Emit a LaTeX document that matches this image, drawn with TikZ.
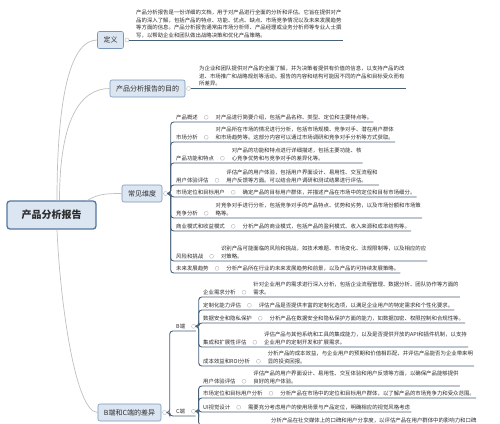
\documentclass[tikz,border=0pt]{standalone}
\usepackage{fontspec}
\setmainfont{Noto Sans CJK SC}
\usepackage{tikz}
\usepackage{xcolor}
\usetikzlibrary{positioning}
\definecolor{mapBlue}{RGB}{84,118,158}
\definecolor{mapFill}{RGB}{220,230,242}
\definecolor{mapEdge}{RGB}{122,150,184}
\definecolor{mapLine}{RGB}{72,96,120}
\definecolor{mapGrey}{RGB}{192,192,192}
\definecolor{mapText}{RGB}{45,45,45}
\newcommand{\leaf}[5]{%
  \node[lbl,anchor=south west] (#1) at (#2,#3) {#4};
  \node[dot,right=5pt of #1] (#1c) {};
  \node[txt,anchor=south west,xshift=6pt] (#1t) at (#1c.east |- #1.south) {#5};}

\begin{document}
\begin{tikzpicture}[
    x=1pt,y=-1pt,
    root/.style={draw=mapBlue,line width=1.3pt,fill=mapFill,rounded corners=3pt,minimum width=89pt,minimum height=28pt,font=\fontsize{10}{12}\selectfont\bfseries,text=mapText},
    topic/.style={draw=mapEdge,line width=0.6pt,fill=mapFill,rounded corners=2pt,minimum height=17pt,inner xsep=6pt,font=\fontsize{7}{8}\selectfont,text=mapText},
    dot/.style={circle,draw=gray!55,fill=white,line width=0.4pt,inner sep=0pt,minimum size=4pt},
    lbl/.style={inner xsep=1pt,inner ysep=2pt,font=\fontsize{5.4}{7.5}\selectfont,text=mapText},
    txt/.style={lbl,align=left},
    branch/.style={mapGrey,line width=0.7pt},
    uline/.style={mapLine,line width=0.9pt,rounded corners=3pt}
  ]
    \useasboundingbox (0,0) rectangle (500,423);
    \fill[white] (0,0) rectangle (500,423);
    \clip (0,0) rectangle (500,423);

    \node[root] (report) at (51.5,215) {产品分析报告};
    \node[topic] (def) at (110.5,40) {定义};
    \node[topic] (aim) at (147.5,88.5) {产品分析报告的目的};
    \node[topic] (dim) at (142,193.5) {常见维度};
    \node[topic] (diff) at (129.5,412.5) {B端和C端的差异};
    \node[dot,right=1pt of def] (defc) {};
    \node[dot,right=1pt of aim] (aimc) {};
    \node[dot,right=1pt of dim] (dimc) {};
    \node[dot,right=1pt of diff] (diffc) {};

    \draw[branch] ([xshift=5.5pt]report.north) .. controls (57,90) and (72,40) .. (def.west);
    \draw[branch] ([xshift=8pt]report.north) .. controls (59.5,120) and (80,88.5) .. (aim.west);
    \draw[branch] ([xshift=36pt]report.north) .. controls (98,194) and (106,193.5) .. (dim.west);
    \draw[branch] ([xshift=5.5pt]report.south) .. controls (60,300) and (75,412.5) .. (diff.west);

    \node[txt,anchor=south west] (deft) at (135,40) {产品分析报告是一份详细的文档，用于对产品进行全面的分析和评估。它旨在提供对产\\品的深入了解，包括产品的特点、功能、优点、缺点、市场竞争情况以及未来发展趋势\\等方面的信息。产品分析报告通常由市场分析师、产品经理或业务分析师等专业人士撰\\写，以帮助企业和团队做出战略决策和优化产品策略。};
    \node[txt,anchor=south west] (aimt) at (198,88.5) {为企业和团队提供对产品的全面了解，并为决策者提供有价值的信息，以支持产品的改\\进、市场推广和战略规划等活动。报告的内容和结构可能因不同的产品和目标受众而有\\所差异。};
    \draw[uline] (defc.east) -- (deft.south east);
    \draw[uline] (aimc.east) -- (aimt.south east);

    \leaf{p1}{175}{122}{产品概述}{对产品进行简要介绍，包括产品名称、类型、定位和主要特点等。}
    \leaf{p2}{175}{142}{市场分析}{对产品所在市场的情况进行分析，包括市场规模、竞争对手、潜在用户群体\\和市场趋势等。这部分内容可以通过市场调研和竞争对手分析等方式获取。}
    \leaf{p3}{175}{163}{产品功能和特点}{对产品的功能和特点进行详细描述，包括主要功能、核\\心竞争优势和与竞争对手的差异化等。}
    \leaf{p4}{175}{185}{用户体验评估}{评估产品的用户体验，包括用户界面设计、易用性、交互流程和\\用户反馈等方面。可以结合用户调研和测试结果进行评估。}
    \leaf{p5}{175}{197}{市场定位和目标用户}{确定产品的目标用户群体，并描述产品在市场中的定位和目标市场细分。}
    \leaf{p6}{175}{218}{竞争分析}{对竞争对手进行分析，包括竞争对手的产品特点、优势和劣势，以及市场份额和市场策\\略等。}
    \leaf{p7}{175}{231}{商业模式和收益模式}{分析产品的商业模式，包括产品的盈利模式、收入来源和成本结构等。}
    \leaf{p8}{175}{261}{风险和挑战}{识别产品可能面临的风险和挑战，如技术难题、市场变化、法规限制等，以及相应的应\\对策略。}
    \leaf{p9}{175}{273}{未来发展趋势}{分析产品所在行业的未来发展趋势和前景，以及产品的可持续发展策略。}
    \foreach \k in {1,...,9}
      \draw[uline] (dimc.east) -- ++(3,0) |- (p\k t.south east);

    \node[lbl,anchor=south west] (bside) at (175,331) {B端};
    \node[dot,right=5pt of bside] (bsidec) {};
    \node[lbl,anchor=south west] (cside) at (175,416) {C端};
    \node[dot,right=5pt of cside] (csidec) {};
    \draw[uline] (diffc.east) -- ++(3,0) |- (bsidec.east |- bside.south);
    \draw[uline] (diffc.east) -- ++(3,0) |- (csidec.east |- cside.south);

    \leaf{b1}{202}{297}{企业需求分析}{针对企业用户的需求进行深入分析，包括企业流程管理、数据分析、团队协作等方面的\\需求。}
    \leaf{b2}{202}{310}{定制化能力评估}{评估产品是否提供丰富的定制化选项，以满足企业用户的特定需求和个性化要求。}
    \leaf{b3}{202}{323}{数据安全和隐私保护}{分析产品在数据安全和隐私保护方面的能力，如数据加密、权限控制和合规性等。}
    \leaf{b4}{202}{347}{集成和扩展性评估}{评估产品与其他系统和工具的集成能力，以及是否提供开放的API和插件机制，以支持\\企业用户的定制开发和扩展需求。}
    \leaf{b5}{202}{366}{成本效益和ROI分析}{分析产品的成本效益，与企业用户的预期和价值相匹配，并评估产品能否为企业带来明\\显的投资回报。}
    \foreach \k in {1,...,5}
      \draw[uline] (bsidec.east) -- ++(3,0) |- (b\k t.south east);

    \leaf{c1}{202}{386}{用户体验评估}{评估产品的用户界面设计、易用性、交互体验和用户反馈等方面，以确保产品能够提供\\良好的用户体验。}
    \leaf{c2}{202}{398}{市场定位和目标用户分析}{分析产品在市场中的定位和目标用户群体，以了解产品的市场竞争力和受众范围。}
    \leaf{c3}{202}{412}{UI视觉设计}{需要充分考虑用户的使用场景与产品定位，明确相应的视觉风格考虑}
    \node[txt,anchor=base west] (c4t) at (270,422.5) {分析产品在社交媒体上的口碑和用户分享度，以评估产品在用户群体中的影响力和口碑};
    \foreach \k in {1,...,3}
      \draw[uline] (csidec.east) -- ++(3,0) |- (c\k t.south east);
    \draw[uline] (csidec.east) -- ++(3,0) |- (c4t.south east);
  \end{tikzpicture}
\end{document}
